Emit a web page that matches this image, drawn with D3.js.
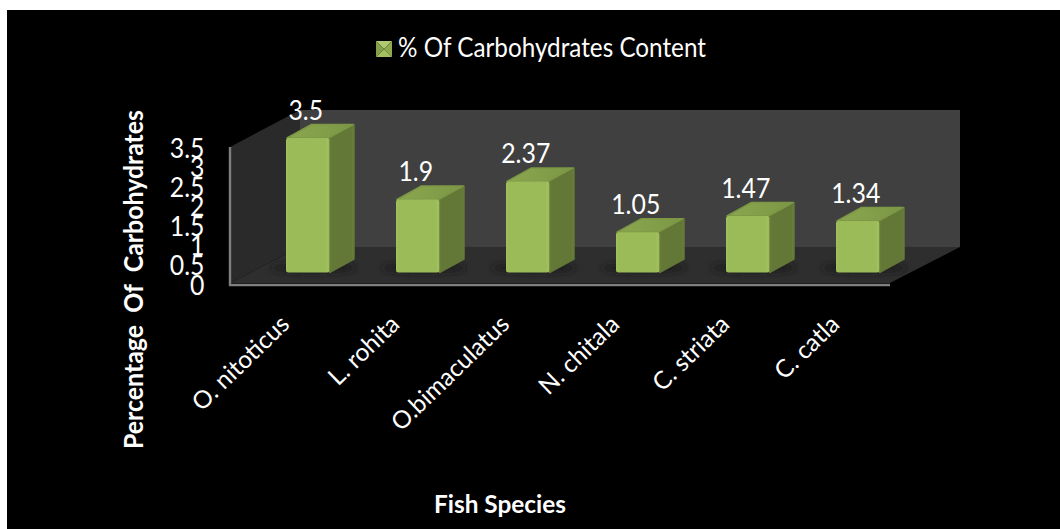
<!DOCTYPE html>
<html><head><meta charset="utf-8">
<script src="https://cdn.jsdelivr.net/npm/d3@7/dist/d3.min.js"></script>
<style>html,body{margin:0;padding:0;background:#fff;overflow:hidden}svg{display:block}text{font-family:Lato,"Open Sans",sans-serif;fill:#fff;white-space:pre}</style>
</head><body><svg id="c" width="1060" height="529"></svg>
<script>
const categories=["O. nitoticus","L. rohita","O.bimaculatus","N. chitala","C. striata","C. catla"];
const values=[3.5,1.9,2.37,1.05,1.47,1.34];
const yTicks=[0,0.5,1,1.5,2,2.5,3,3.5];
const seriesName="% Of Carbohydrates Content";
const yTitle="Percentage  Of  Carbohydrates";
const xTitle="Fish Species";

const svg=d3.select("#c");
const D={dx:24.5,dy:13.5,barW:43.5};
const x=d3.scaleBand().domain(categories).range([253,913]);
const barX=c=>x(c)+33;
const y=d3.scaleLinear().domain([0,3.5]).range([272.5,138]);
const yAxisScale=d3.scaleLinear().domain([0,3.5]).range([285,148]);

const defs=svg.append("defs");
const blur=defs.append("filter").attr("id","blur").attr("x","-30%").attr("y","-150%").attr("width","160%").attr("height","400%");
blur.append("feGaussianBlur").attr("stdDeviation",3);
function grad(id,stops,x2,y2){
  const g=defs.append("linearGradient").attr("id",id).attr("x1",0).attr("y1",0).attr("x2",x2).attr("y2",y2);
  stops.forEach(s=>g.append("stop").attr("offset",s[0]).attr("stop-color",s[1]));
}
grad("front",[[0,"#a2c05f"],[0.05,"#9bbb59"],[0.92,"#9bbb59"],[0.97,"#a4c463"],[1,"#8aa84e"]],1,0);
grad("side",[[0,"#6a8039"],[0.1,"#637837"],[0.9,"#637837"],[1,"#6e853e"]],1,0);
grad("top",[[0,"#8aa74f"],[1,"#7c9745"]],1,0);

svg.append("rect").attr("x",7).attr("y",10).attr("width",1053).attr("height",519).attr("fill","#000");

// 3-D walls
const line=d3.line();
svg.append("path").attr("d",line([[300,110],[960,110],[960,247],[300,247]])+"Z").attr("fill","#404040");
svg.append("path").attr("d",line([[230,147],[300,110],[300,247],[230,283]])+"Z").attr("fill","#2a2a2a");
svg.append("path").attr("d",line([[230,283],[300,247],[960,247],[890,283]])+"Z").attr("fill","#2e2e2e");
svg.append("path").attr("d",line([[230,147],[230,285],[890,285]])).attr("fill","none").attr("stroke","#7f7f7f").attr("stroke-width",2.4);

// bar shadows
svg.append("g").selectAll("ellipse").data(categories).join("ellipse")
  .attr("cx",c=>barX(c)+D.barW/2+6).attr("cy",268).attr("rx",42).attr("ry",5)
  .attr("fill","#1a1a1a").attr("filter","url(#blur)");

// bars
const bars=svg.append("g").selectAll("g").data(categories.map((c,i)=>({c,v:values[i]}))).join("g");
bars.append("path").attr("fill","url(#side)").attr("stroke","#637837").attr("stroke-linejoin","round").attr("stroke-width",1.5).attr("d",d=>{
  const a=barX(d.c)+D.barW,t=y(d.v),b=y(0);
  return line([[a,t],[a+D.dx,t-D.dy],[a+D.dx,b-D.dy],[a,b]])+"Z";});
bars.append("path").attr("fill","url(#top)").attr("stroke","#7c9745").attr("stroke-width",1.5).attr("stroke-linejoin","round").attr("d",d=>{
  const a=barX(d.c),t=y(d.v);
  return line([[a+1,t],[a+D.dx+1,t-D.dy],[a+D.barW+D.dx-1,t-D.dy],[a+D.barW-1,t]])+"Z";});
bars.append("rect").attr("fill","url(#front)").attr("x",d=>barX(d.c)).attr("y",d=>y(d.v))
  .attr("width",D.barW).attr("height",d=>y(0)-y(d.v)).attr("rx",2.5);

// data labels
svg.append("g").selectAll("text").data(categories.map((c,i)=>({c,v:values[i]}))).join("text")
  .attr("text-anchor","middle").attr("font-size",27).text(d=>d.v)
  .attr("transform",d=>`translate(${barX(d.c)+D.barW/2-2},${y(d.v)-18.5}) scale(0.92,1)`);

// value axis
const ya=svg.append("g").attr("transform","translate(204.5,0)")
  .call(d3.axisLeft(yAxisScale).tickValues(yTicks).tickSize(0).tickPadding(0).tickFormat(d=>d));
ya.select(".domain").remove();
ya.selectAll("text").attr("font-size",27).attr("fill","#fff").attr("font-family","Lato")
  .attr("text-anchor","end").attr("dy",0).attr("x",0).attr("y",0)
  .attr("transform","translate(0,9) scale(0.92,1)");

// category labels
svg.append("g").selectAll("text").data(categories).join("text")
  .attr("text-anchor","end").attr("font-size",24.5).text(d=>d)
  .attr("transform",c=>`translate(${barX(c)+5},326) rotate(-44)`);

// legend
const swatch={x:376,y:41,s:16};
const cx=swatch.x+swatch.s/2,cy=swatch.y+swatch.s/2;
[[[0,0],[1,0],"#afca70"],[[1,0],[1,1],"#8fab50"],[[1,1],[0,1],"#a3bf62"],[[0,1],[0,0],"#84a04a"]].forEach(t=>{
  svg.append("path").attr("fill",t[2]).attr("d",line([
    [swatch.x+t[0][0]*swatch.s,swatch.y+t[0][1]*swatch.s],
    [swatch.x+t[1][0]*swatch.s,swatch.y+t[1][1]*swatch.s],[cx,cy]])+"Z");
});
svg.append("text").attr("x",398).attr("y",57).attr("font-size",27).attr("textLength",308).attr("lengthAdjust","spacingAndGlyphs").text(seriesName);

// axis titles
svg.append("text").attr("transform","translate(143,449) rotate(-90)").attr("font-size",27).attr("font-weight",700)
  .attr("textLength",339).attr("lengthAdjust","spacingAndGlyphs").text(yTitle);
svg.append("text").attr("x",434).attr("y",513).attr("font-size",24).attr("font-weight",700)
  .attr("textLength",132).attr("lengthAdjust","spacingAndGlyphs").text(xTitle);
</script></body></html>
